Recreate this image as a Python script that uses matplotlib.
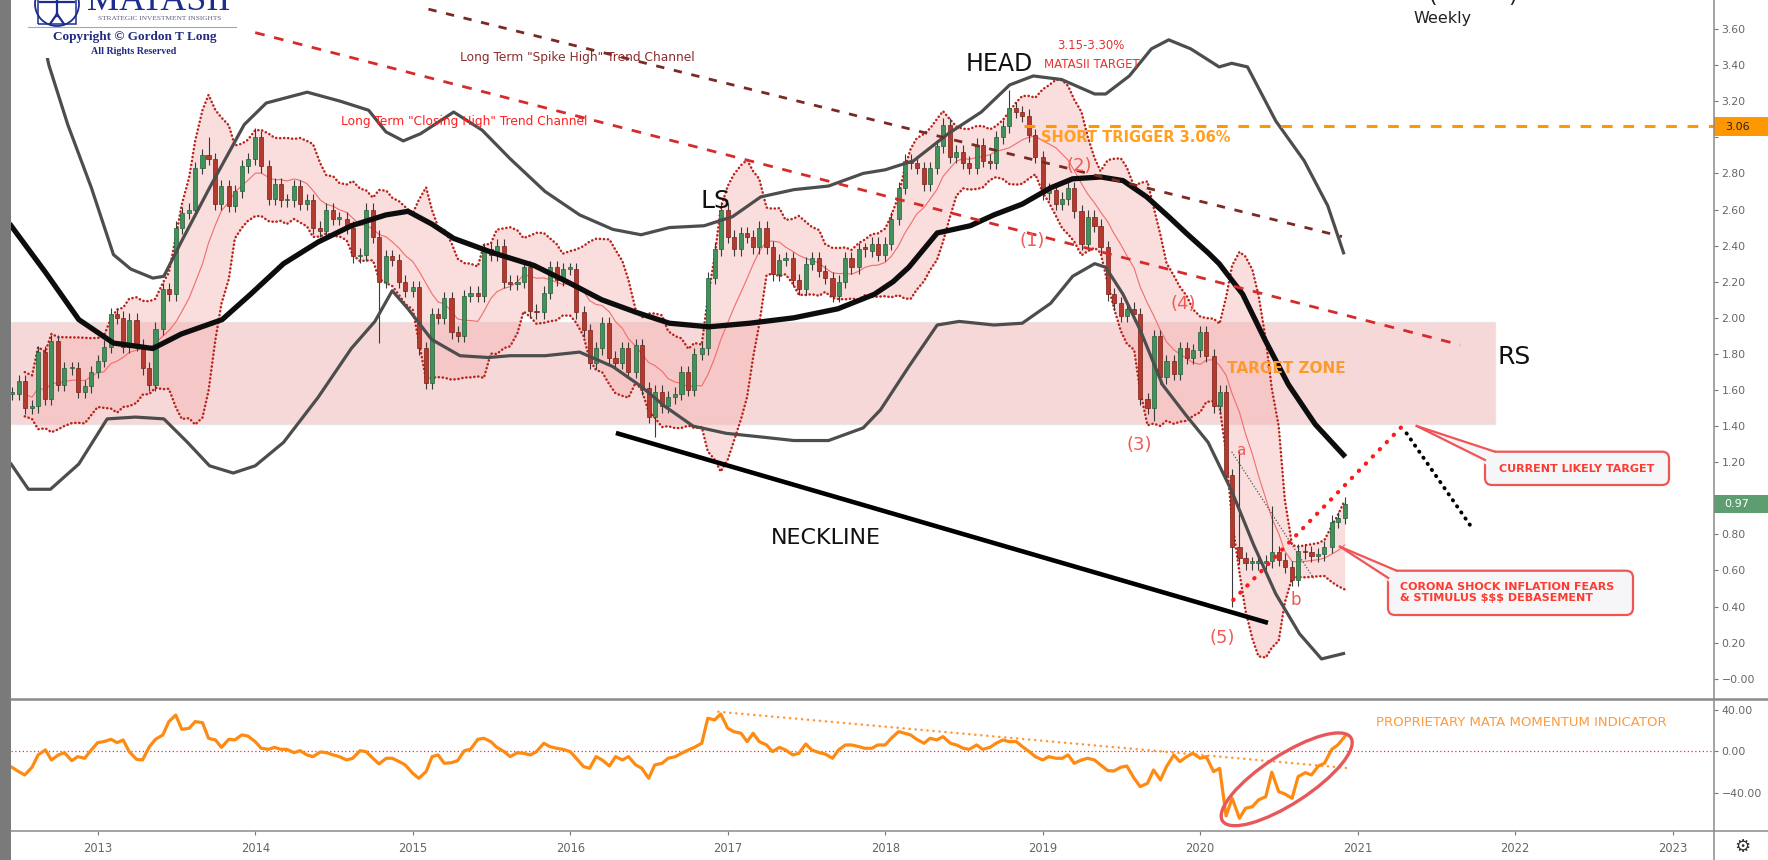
import numpy as np
import pandas as pd
import matplotlib
matplotlib.use('Agg')
import matplotlib.pyplot as plt
from matplotlib.patches import Rectangle, FancyBboxPatch, Polygon, Ellipse, Circle
from matplotlib.transforms import IdentityTransform
from matplotlib.lines import Line2D

W, H = 1768, 860

# ---- semi-monthly closes (10y yield, %) ----
c2012 = [1.58, 1.65, 1.50, 1.51, 1.81, 1.55, 1.87, 1.63, 1.72, 1.72, 1.59, 1.62, 1.70]
c2013 = [1.76, 1.84, 2.02, 2.00, 1.84, 1.99, 1.85, 1.72, 1.63, 1.94, 2.16, 2.13,
         2.50, 2.58, 2.60, 2.83, 2.90, 2.88, 2.63, 2.73, 2.62, 2.70, 2.84, 2.88]
c2014 = [3.00, 2.84, 2.66, 2.74, 2.65, 2.65, 2.73, 2.63, 2.65, 2.50, 2.48, 2.60,
         2.55, 2.55, 2.50, 2.34, 2.35, 2.60, 2.45, 2.20, 2.34, 2.32, 2.20, 2.15]
c2015 = [2.17, 1.83, 1.64, 2.02, 2.00, 2.11, 1.92, 1.90, 2.12, 2.14, 2.12, 2.38,
         2.35, 2.40, 2.20, 2.19, 2.20, 2.28, 2.04, 2.03, 2.14, 2.28, 2.21, 2.27]
c2016 = [2.27, 2.03, 1.93, 1.75, 1.83, 1.97, 1.78, 1.75, 1.83, 1.70, 1.85, 1.61,
         1.45, 1.59, 1.51, 1.56, 1.58, 1.70, 1.60, 1.80, 1.83, 2.22, 2.38, 2.60]
c2017 = [2.45, 2.38, 2.47, 2.45, 2.39, 2.50, 2.39, 2.24, 2.32, 2.33, 2.21, 2.16,
         2.30, 2.33, 2.26, 2.22, 2.12, 2.20, 2.33, 2.28, 2.38, 2.37, 2.41, 2.35]
c2018 = [2.41, 2.55, 2.72, 2.87, 2.86, 2.83, 2.74, 2.83, 2.95, 3.07, 2.89, 2.92,
         2.86, 2.83, 2.96, 2.87, 2.86, 3.00, 3.06, 3.16, 3.14, 3.12, 3.01, 2.89]
c2019 = [2.69, 2.71, 2.63, 2.66, 2.72, 2.59, 2.41, 2.56, 2.51, 2.39, 2.13, 2.08,
         2.01, 2.05, 2.02, 1.55, 1.50, 1.90, 1.67, 1.76, 1.69, 1.83, 1.78, 1.82]
c2020 = [1.92, 1.79, 1.51, 1.59, 1.13, 0.73, 0.67, 0.64, 0.64, 0.64, 0.65, 0.70,
         0.66, 0.62, 0.55, 0.71, 0.70, 0.68, 0.69, 0.73, 0.87, 0.89, 0.97]

# candles whose wick reaches well beyond the body
wick_high = {30: 3.00, 37: 3.05, 108: 2.64, 152: 3.26, 187: 1.26, 192: 0.96}
wick_low = {56: 1.86, 98: 1.34, 174: 1.43, 186: 0.40}

# ---- momentum indicator (lower pane), same dates ----
momentum = [
    -15.3, -19.5, -22.7, -15.3, -3.5, 1.3, -8.3, -3.5, -1.3, -9.0, -5.1, -6.7, 0.6,
    8.3, 9.3, 11.5, 8.3, 10.9, -0.3, -7.7, -8.3, 4.5, 11.5, 15.7, 28.5,
    34.8, 21.1, 22.1, 28.5, 27.5, 12.5, 10.9, 3.8, 11.5, 10.9, 15.7, 14.7,
    9.3, 2.9, 1.9, 3.8, 1.9, 1.9, -1.3, 0.6, -3.5, -5.1, -0.6, -1.3,
    -3.5, -5.1, -8.3, -6.7, 0.6, -0.3, -6.7, -12.1, -6.7, -6.7, -9.9, -13.1,
    -21.1, -25.9, -19.5, -5.1, -3.5, -11.5, -10.9, -9.0, 0.6, 1.9, 11.5, 12.5,
    9.3, 3.8, -0.3, -5.1, -1.3, -1.9, -3.5, -0.3, 7.7, 4.5, 2.9, 1.9,
    -0.3, -6.7, -14.7, -16.3, -5.1, -8.3, -14.1, -5.1, -8.3, -5.1, -13.1, -16.3,
    -25.9, -13.1, -11.5, -6.7, -5.1, -1.9, 1.3, 3.8, 7.7, 31.7, 30.1, 35.8,
    22.1, 18.9, 17.3, 9.3, 17.3, 9.3, 6.1, -0.3, 3.8, 1.3, -3.5, -1.9,
    7.0, 1.3, -1.3, -2.6, -6.7, 1.3, 6.1, 6.1, 4.5, 2.9, 2.9, 6.1,
    6.1, 12.5, 18.9, 17.3, 15.7, 11.5, 7.7, 12.5, 10.9, 14.1, 7.7, 6.1,
    2.9, 1.9, 6.1, 1.9, 3.8, 7.7, 10.9, 9.3, 9.3, 4.5, -0.3, -5.1,
    -8.3, -5.1, -6.7, -6.7, -3.5, -11.5, -8.3, -6.7, -8.3, -13.1, -18.5, -18.9,
    -15.3, -14.1, -25.9, -33.9, -30.7, -17.9, -27.5, -14.7, -3.5, -9.9, -5.1, -1.9,
    -6.7, -5.1, -19.5, -16.3, -62.0, -45.0, -64.3, -54.7, -53.1, -46.7,
    -43.5, -20.0, -38.7, -40.9, -45.1, -24.3, -20.5, -22.7, -14.1, -11.5, 1.9, 6.1, 14.1]

# ---- long-period bands and moving average ----
ma_x = [2012.45, 2012.67, 2012.88, 2013.10, 2013.35, 2013.53, 2013.79, 2013.97, 2014.18, 2014.40,
        2014.61, 2014.83, 2014.97, 2015.12, 2015.26, 2015.51, 2015.77, 2015.98, 2016.20, 2016.42,
        2016.63, 2016.88, 2017.14, 2017.42, 2017.70, 2017.93, 2018.05, 2018.15, 2018.33, 2018.54,
        2018.69, 2018.87, 2019.05, 2019.19, 2019.37, 2019.51, 2019.66, 2019.80, 2019.91, 2020.05,
        2020.12, 2020.27, 2020.41, 2020.56, 2020.73, 2020.91]
ma_y = [2.51, 2.25, 1.99, 1.86, 1.83, 1.91, 1.99, 2.13, 2.30, 2.42,
        2.51, 2.57, 2.59, 2.52, 2.44, 2.36, 2.29, 2.20, 2.10, 2.03,
        1.97, 1.95, 1.97, 2.00, 2.05, 2.13, 2.20, 2.28, 2.47, 2.51,
        2.57, 2.63, 2.72, 2.77, 2.78, 2.76, 2.67, 2.56, 2.47, 2.36,
        2.30, 2.13, 1.88, 1.63, 1.41, 1.24]
up_x = [2012.66, 2012.69, 2012.81, 2012.96, 2013.10, 2013.21, 2013.35, 2013.42, 2013.53, 2013.71,
        2013.93, 2014.07, 2014.33, 2014.54, 2014.72, 2014.83, 2014.94, 2015.05, 2015.26, 2015.44,
        2015.62, 2015.84, 2016.06, 2016.27, 2016.45, 2016.63, 2016.85, 2017.03, 2017.21, 2017.42,
        2017.64, 2017.86, 2018.00, 2018.18, 2018.40, 2018.61, 2018.79, 2018.94, 2019.12, 2019.33,
        2019.40, 2019.55, 2019.69, 2019.80, 2019.94, 2020.12, 2020.20, 2020.30, 2020.48, 2020.66,
        2020.81, 2020.91]
up_y = [3.52, 3.40, 3.07, 2.72, 2.35, 2.27, 2.22, 2.23, 2.42, 2.72,
        3.07, 3.19, 3.25, 3.20, 3.15, 3.03, 2.98, 3.02, 3.14, 3.04,
        2.88, 2.70, 2.57, 2.49, 2.46, 2.50, 2.51, 2.56, 2.67, 2.71,
        2.73, 2.80, 2.82, 2.87, 3.02, 3.14, 3.29, 3.34, 3.32, 3.24,
        3.24, 3.34, 3.49, 3.54, 3.49, 3.39, 3.41, 3.39, 3.09, 2.87,
        2.62, 2.36]
lo_x = [2012.45, 2012.56, 2012.70, 2012.88, 2013.06, 2013.24, 2013.42, 2013.57, 2013.71, 2013.86,
        2014.00, 2014.18, 2014.40, 2014.61, 2014.76, 2014.87, 2014.97, 2015.12, 2015.30, 2015.48,
        2015.62, 2015.84, 2016.06, 2016.27, 2016.45, 2016.60, 2016.78, 2016.99, 2017.21, 2017.42,
        2017.64, 2017.86, 2017.97, 2018.15, 2018.33, 2018.47, 2018.69, 2018.87, 2019.05, 2019.19,
        2019.33, 2019.40, 2019.51, 2019.62, 2019.76, 2019.91, 2020.05, 2020.20, 2020.34, 2020.48,
        2020.63, 2020.77, 2020.91]
lo_y = [1.19, 1.05, 1.05, 1.19, 1.44, 1.45, 1.44, 1.31, 1.18, 1.14,
        1.18, 1.31, 1.56, 1.83, 1.98, 2.15, 2.05, 1.88, 1.79, 1.78,
        1.79, 1.79, 1.81, 1.73, 1.62, 1.51, 1.40, 1.36, 1.34, 1.32,
        1.32, 1.39, 1.49, 1.73, 1.96, 1.98, 1.96, 1.97, 2.08, 2.23,
        2.30, 2.28, 2.13, 1.93, 1.63, 1.46, 1.31, 1.04, 0.74, 0.47,
        0.25, 0.11, 0.14]

# drawn lines (year, value)
spike_high = ([2015.10, 2020.90], [3.71, 2.45])
closing_high = ([2014.00, 2021.65], [3.58, 1.85])
neckline = ([2016.29, 2020.43], [1.362, 0.31])
target_up = ([2020.21, 2021.29], [0.437, 1.406])
target_down = ([2021.31, 2021.72], [1.36, 0.843])
ab_line = ([2020.20, 2020.72], [1.258, 0.557])
mom_trend = ([2016.94, 2020.95], [38.0, -16.3])
short_trigger = 3.06
last_price = 0.97
zone = (1.41, 1.977)
years = list(range(2013, 2024))

# ---------------------------------------------------------------------
closes = np.array(c2012 + c2013 + c2014 + c2015 + c2016 + c2017 + c2018 + c2019 + c2020)
dates = pd.date_range('2012-06-15', '2020-12-01', freq='SMS')
t = (dates.year + (dates.dayofyear - 1) / 365.25).to_numpy()
mom = np.array(momentum)

opens = np.r_[closes[0], closes[:-1]]
highs = np.maximum(opens, closes) + 0.035
lows = np.minimum(opens, closes) - 0.035
for k, v in wick_high.items():
    highs[k] = v
for k, v in wick_low.items():
    lows[k] = v

s = pd.Series(closes)
mid = s.rolling(10, min_periods=3).mean()
sd = s.rolling(10, min_periods=3).std(ddof=0)
bb_up = mid + 2 * sd
bb_lo = mid - 2 * sd

PIX = IdentityTransform()


def fp(x, y):
    return x / W, 1 - y / H


def dp(x, y):
    return x, H - y


fig = plt.figure(figsize=(W / 100, H / 100), dpi=100)
fig.patch.set_facecolor('white')

X0, X1 = 2012.4495, 2023.262
ax = fig.add_axes([11 / W, 1 - 698 / H, (1714 - 11) / W, 698 / H])
ax2 = fig.add_axes([11 / W, 1 - 830.7 / H, (1714 - 11) / W, (830.7 - 699) / H])
for a in (ax, ax2):
    a.set_xlim(X0, X1)
    for sp in a.spines.values():
        sp.set_visible(False)
    a.set_facecolor('white')
ax.set_ylim(-0.1064, 3.7607)
ax2.set_ylim(-76.2, 50.2)

# target zone and short-term bands
ax.add_patch(Rectangle((X0, zone[0]), 2021.87 - X0, zone[1] - zone[0],
                       facecolor='#eaa3a3', alpha=0.42, edgecolor='#d8d8d8', lw=1, zorder=1))
ax.fill_between(t, bb_lo, bb_up, color='#f4b4b4', alpha=0.45, lw=0, zorder=2)
ax.plot(t, mid, color='#f26d6d', lw=0.8, zorder=3)
for band in (bb_up, bb_lo):
    ax.plot(t, band, color='#b8241c', lw=1.8, ls=(0, (0.1, 1.5)),
            dash_capstyle='round', zorder=3)

# candles
w = 0.62 / 24
ax.vlines(t, lows, highs, color='#3a3a3a', lw=0.8, zorder=4)
body = np.where(np.abs(closes - opens) < 0.01, 0.01, closes - opens)
up = closes >= opens
ax.bar(t[up], body[up], bottom=opens[up], width=w, color='#43915a',
       edgecolor='#22603a', lw=0.5, zorder=5)
ax.bar(t[~up], body[~up], bottom=opens[~up], width=w, color='#b53a2e',
       edgecolor='#7a1f17', lw=0.5, zorder=5)

# long bands and average
ax.plot(up_x, up_y, color='#4d4d4d', lw=2.3, zorder=6, solid_joinstyle='round')
ax.plot(lo_x, lo_y, color='#4d4d4d', lw=2.3, zorder=6, solid_joinstyle='round')
ax.plot(ma_x, ma_y, color='#0d0d0d', lw=3.8, zorder=7, solid_joinstyle='round')

# trend lines
ax.plot(*spike_high, color='#7a2a22', lw=2, ls=(0, (3, 3.5)), zorder=8)
ax.plot(*closing_high, color='#d62b2b', lw=2, ls=(0, (3.5, 3.5)), zorder=8)
ax.plot([2018.88, X1], [short_trigger] * 2, color='#ff9800', lw=2.2, ls=(0, (3.5, 3.5)), zorder=8)
ax.plot(*neckline, color='#000000', lw=3.3, zorder=8, solid_capstyle='butt')
ax.plot(*target_up, color='#ff1a1a', lw=3, ls=(0, (0.1, 2.3)), dash_capstyle='round', zorder=9)
ax.plot(*target_down, color='#000000', lw=2.8, ls=(0, (0.1, 1.8)), dash_capstyle='round', zorder=9)
ax.plot(*ab_line, color='#555555', lw=0.9, ls=(0, (1, 1.5)), zorder=9)

# axes ticks (labels under the price boxes are left blank)
yt = np.round(np.arange(0, 3.61, 0.2), 2)
ylabels = []
for v in yt:
    if v == 0:
        ylabels.append('\u22120.00')
    elif abs(v - short_trigger) < 0.1 or abs(v - last_price) < 0.1:
        ylabels.append('')
    else:
        ylabels.append(f'{v:.2f}')
ax.yaxis.tick_right()
ax.set_yticks(yt)
ax.set_yticklabels(ylabels)
ax.set_xticks([])
ax.tick_params(axis='y', direction='out', length=3, width=0.8, color='#777777',
               labelsize=7.8, labelcolor='#666666', pad=2.5)

ax2.plot(t, mom, color='#ff8a12', lw=2.3, zorder=5, solid_joinstyle='round')
ax2.axhline(0, color='#ff2b2b', lw=0.9, ls=(0, (1, 2)), zorder=3)
ax2.plot(*mom_trend, color='#ff9a3c', lw=1.8, ls=(0, (0.1, 2.3)), dash_capstyle='round', zorder=4)
ax2.yaxis.tick_right()
ax2.set_yticks([40, 0, -40])
ax2.set_yticklabels(['40.00', '0.00', '\u221240.00'])
ax2.set_xticks(years)
ax2.set_xticklabels([str(y) for y in years])
ax2.tick_params(axis='y', direction='out', length=3, width=0.8, color='#777777',
                labelsize=7.8, labelcolor='#666666', pad=2.5)
ax2.tick_params(axis='x', direction='out', length=3, width=0.8, color='#777777',
                labelsize=8.3, labelcolor='#666666', pad=5)

# frame lines
fig.add_artist(Rectangle((0, 0), 11, H, transform=PIX, facecolor='#7a7a7a', lw=0))
for (xa, ya, xb, yb, lw) in [(11, 698.5, W, 698.5, 1.8), (11, 830.7, W, 830.7, 1.1),
                             (1714, 0, 1714, H, 1.1)]:
    fig.add_artist(Line2D([xa, xb], [H - ya, H - yb], transform=PIX, color='#8a8a8a', lw=lw))

# ellipse in the momentum pane
fig.add_artist(Ellipse(dp(1286.7, 779.3), 153, 48.6, angle=33, transform=PIX,
                       fill=False, edgecolor='#e8575a', lw=2.4))

# price boxes on the right axis
fig.add_artist(Rectangle((1714, H - 126.5 - 9.2), 54, 18.4, transform=PIX,
                         facecolor='#ff9800', lw=0))
fig.text(*fp(1737, 126.5), f'{short_trigger:.2f}', ha='center', va='center',
         fontsize=8, color='#222222')
fig.add_artist(Rectangle((1714, H - 503.7 - 9.2), 54, 18.4, transform=PIX,
                         facecolor='#5c9e6f', lw=0))
fig.text(*fp(1737, 503.7), f'{last_price:.2f}', ha='center', va='center',
         fontsize=8, color='white')


def callout(box, tip, b1, b2, fill_pts):
    x0, y0, x1, y1 = box
    fig.add_artist(FancyBboxPatch((x0, H - y1), x1 - x0, y1 - y0,
                                  boxstyle='round,pad=0,rounding_size=7', transform=PIX,
                                  facecolor='#f6f6f8', edgecolor='#f05555', lw=1.6))
    fig.add_artist(Polygon([dp(*tip)] + [dp(*p) for p in fill_pts], closed=True,
                           transform=PIX, facecolor='#f6f6f8', edgecolor='none'))
    for b in (b1, b2):
        fig.add_artist(Line2D([tip[0], b[0]], [H - tip[1], H - b[1]], transform=PIX,
                              color='#f05555', lw=1.6))


callout((1485, 451.7, 1669, 485), (1416.7, 426), (1495, 451.7), (1485, 460),
        [(1500, 454), (1487, 465)])
callout((1388, 570.7, 1633, 615), (1340, 546.7), (1396.7, 570.7), (1388.3, 578),
        [(1402, 574), (1391, 583)])
fig.text(*fp(1577, 468.5), 'CURRENT LIKELY TARGET', ha='center', va='center',
         fontsize=8, fontweight='bold', color='#ff3b30')
fig.text(*fp(1400, 586.7), 'CORONA SHOCK INFLATION FEARS', ha='left', va='center',
         fontsize=8, fontweight='bold', color='#ff3b30')
fig.text(*fp(1400, 597.7), '& STIMULUS $$$ DEBASEMENT', ha='left', va='center',
         fontsize=8, fontweight='bold', color='#ff3b30')

# chart annotations
fig.text(*fp(577, 58), 'Long Term "Spike High" Trend Channel', ha='center', va='center',
         fontsize=8.8, color='#8b2c2c')
fig.text(*fp(464, 122), 'Long Term "Closing High" Trend Channel', ha='center', va='center',
         fontsize=8.8, color='#ff2020')
fig.text(*fp(715, 201), 'LS', ha='center', va='center', fontsize=18, color='#111111')
fig.text(*fp(999, 64), 'HEAD', ha='center', va='center', fontsize=17, color='#111111')
fig.text(*fp(826, 538), 'NECKLINE', ha='center', va='center', fontsize=16, color='#111111')
fig.text(*fp(1514, 357), 'RS', ha='center', va='center', fontsize=18, color='#111111')
fig.text(*fp(1091, 45.5), '3.15-3.30%', ha='center', va='center', fontsize=8.5, color='#e8322f')
fig.text(*fp(1092, 64), 'MATASII TARGET', ha='center', va='center', fontsize=8.5, color='#e8322f')
fig.text(*fp(1136, 137.5), 'SHORT TRIGGER 3.06%', ha='center', va='center', fontsize=10.5,
         fontweight='bold', color='#ffa020')
fig.text(*fp(1286, 369), 'TARGET ZONE', ha='center', va='center', fontsize=11,
         fontweight='bold', color='#ff9a2a')
fig.text(*fp(1443, 18), 'Weekly', ha='center', va='center', fontsize=11.5, color='#222222')
fig.text(*fp(1432, 2), '(', ha='center', va='baseline', fontsize=16, color='#222222')
fig.text(*fp(1513, 2), ')', ha='center', va='baseline', fontsize=16, color='#222222')
for s_, x, y, fs in [('(1)', 1031.8, 241, 13), ('(2)', 1079, 166, 13), ('(3)', 1139, 445.5, 13),
                     ('(4)', 1183, 303.6, 13), ('(5)', 1222.6, 638, 13),
                     ('a', 1240.7, 451, 11), ('b', 1296, 600.4, 12)]:
    fig.text(*fp(x, y), s_, ha='center', va='center', fontsize=fs, color='#f25a55')
fig.text(*fp(1376, 722.7), 'PROPRIETARY MATA MOMENTUM INDICATOR', ha='left', va='center',
         fontsize=9.5, color='#ff9a3c')
fig.text(*fp(1742, 847), '\u2699', ha='center', va='center', fontsize=13, color='#333333')

# logo block
fig.add_artist(Rectangle((20, H - 58), 220, 58, transform=PIX, facecolor='white', lw=0))
fig.add_artist(Circle(dp(57, 4), 22, transform=PIX, fill=False, edgecolor='#1d2d8f', lw=1.3))
fig.add_artist(Rectangle(dp(38, 24), 38, 44, transform=PIX, fill=False, edgecolor='#1d2d8f', lw=1.1))
for (xa, ya, xb, yb) in [(57, 0, 57, 16), (57, 14, 50, 24), (57, 14, 64, 24), (40, 2, 74, 2)]:
    fig.add_artist(Line2D([xa, xb], [H - ya, H - yb], transform=PIX, color='#1d2d8f', lw=1.6))
fig.text(*fp(159, 10), 'MATASII', ha='center', va='baseline', fontsize=26,
         family='Liberation Serif', color='#1d2d8f')
fig.text(*fp(159.5, 19), 'STRATEGIC INVESTMENT INSIGHTS', ha='center', va='center',
         fontsize=5.3, family='Liberation Serif', color='#5a5f80')
fig.add_artist(Line2D([28, 236], [H - 27, H - 27], transform=PIX, color='#a0a6bc', lw=0.8))
fig.text(*fp(135, 36.6), 'Copyright \u00a9 Gordon T Long', ha='center', va='center',
         fontsize=9.5, fontweight='bold', family='Liberation Serif', color='#1f2a80')
fig.text(*fp(134, 52), 'All Rights Reserved', ha='center', va='center',
         fontsize=7.2, fontweight='bold', family='Liberation Serif', color='#1f2a80')

fig.savefig('out.png', dpi=100)
